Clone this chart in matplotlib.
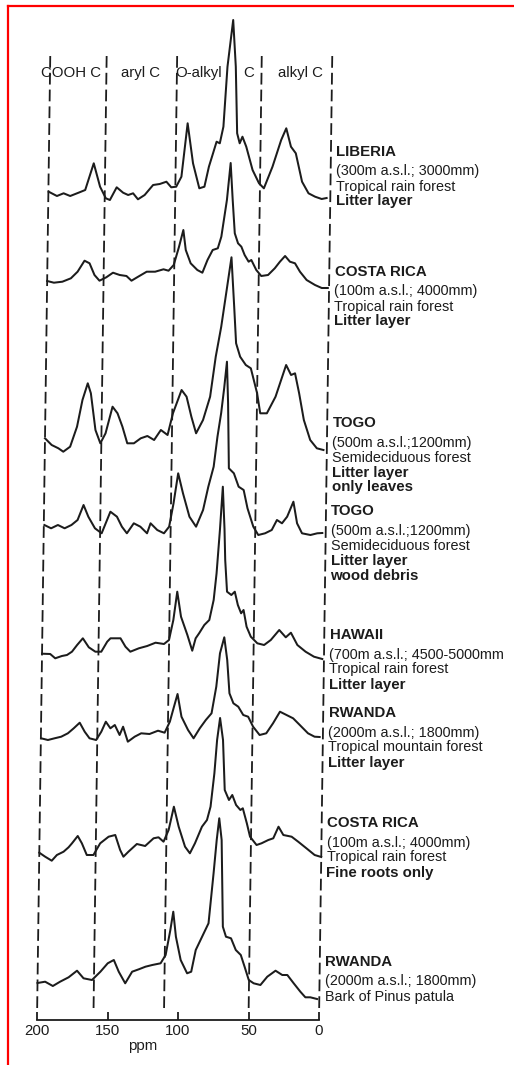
import matplotlib as mpl

mpl.use("Agg")
import matplotlib.pyplot as plt
from matplotlib.lines import Line2D
import numpy as np

plt.rcParams["font.family"] = ["Liberation Sans", "DejaVu Sans"]

INK = "#1c1c1c"
RED = "#ff0000"

# 13C CPMAS NMR traces: (chemical shift in ppm, intensity above the 0 ppm end)
liberia = np.array([
    (199.8, 6.3), (193.9, 2), (189.2, 4.7), (184.5, 2), (178.6, 5.3), (173.9, 8),
    (168.1, 34.7), (163.4, 11.3), (159.2, -0.3), (156.3, -2), (151.6, 10.7), (147.0, 5.3),
    (143.4, 3), (139.9, 4.7), (136.4, -1.3), (131.7, 3), (125.8, 13), (121.1, 14),
    (116.4, 16.3), (112.9, 10.7), (109.4, 11.3), (105.8, 21.3), (101.9, 74.7), (97.7, 34.7),
    (93.0, 9.7), (89.4, 11.3), (86.4, 31.3), (83.6, 44.7), (81.2, 56.3), (78.9, 54.7),
    (76.5, 71.3), (74.2, 131.3), (70.6, 178), (68.3, 131.3), (66.7, 64.7), (64.8, 54.7),
    (62.9, 61.3), (60.1, 51.3), (55.4, 28), (50.7, 14.7), (47.2, 9.7), (41.3, 31.3),
    (35.4, 58), (31.9, 69.7), (28.4, 51.3), (24.9, 44.7), (20.2, 16.3), (15.5, 4.7),
    (10.8, 1.3), (6.1, -1), (2.6, 0),
])
costa_litter = np.array([
    (200, 7), (195.2, 5.3), (189.2, 6.3), (183.2, 9.7), (178.5, 16.3), (173.7, 27.3),
    (170.1, 24.7), (166.5, 13), (162.9, 7.3), (158.1, 10.7), (153.4, 15.3), (148.6, 13),
    (143.8, 12), (140.2, 7.3), (135.5, 11.3), (129.5, 16.3), (123.5, 16.3), (117.6, 18.7),
    (114, 17.3), (110.4, 23), (106.8, 41.3), (103.9, 58), (102, 38), (98.4, 24.7),
    (93.6, 18), (90, 15.3), (86.5, 28), (82.9, 38), (79.3, 39.7), (76.9, 51.3),
    (73.3, 88), (71, 125), (69.2, 88), (67.4, 54.7), (65, 44.7), (62.6, 41.3),
    (60.2, 33), (57.3, 26.3), (55.4, 28), (51.8, 18), (48.2, 12), (43.4, 13),
    (38.7, 19.7), (35.1, 26.3), (31.5, 32), (28, 26.3), (24.4, 24.7), (20.8, 16.3),
    (16, 8), (10, 3), (5.2, 0), (0.9, 0),
])
togo_leaves = np.array([
    (200, 11.7), (195.2, 5), (190.4, 1.7), (186.9, -1.7), (182.1, 3.3), (177.4, 23.3),
    (173.8, 50), (170.2, 66.7), (167.9, 56.7), (164.3, 20), (160.7, 6.7), (157.1, 16.7),
    (152.4, 43.3), (148.8, 36.7), (145.2, 23.3), (141.6, 6.7), (136.9, 6.7), (132.1, 11.7),
    (127.4, 14), (122.6, 10), (117.9, 20), (113.1, 15), (109.5, 36.7), (103.6, 60),
    (100, 53.3), (96.4, 33.3), (92.9, 16.7), (88.1, 30), (83.3, 53.3), (79.7, 93.3),
    (76.1, 123.3), (72.6, 160), (69.5, 192.7), (67.1, 143.3), (65.4, 106.7), (62.4, 93.3),
    (58.3, 85), (54.7, 81.7), (50, 56.7), (47.6, 36.7), (42.9, 36.7), (36.9, 53.3),
    (29.7, 85), (26.1, 75), (23.3, 76.7), (20.2, 56.7), (16.6, 30), (11.9, 10),
    (7.1, 1.7), (2.4, 0),
])
togo_wood = np.array([
    (199.6, 8), (194.8, 4.7), (190, 8), (185.2, 4.7), (180.4, 8), (176.1, 13),
    (172, 28), (168.5, 16.3), (163.7, 4.7), (158.9, -0.3), (152.9, 21.3), (148.2, 16.3),
    (144.6, 6.3), (141, -0.3), (136.2, 9.7), (131.5, 6.3), (126.7, -0.3), (124.3, 9.7),
    (119.5, 3), (114.7, -0.3), (111.1, 6.3), (108.2, 29.7), (105.2, 59.7), (101.6, 39.7),
    (96.8, 16.3), (92, 6.3), (87.2, 23), (83.7, 46.3), (80.1, 66.3), (77.7, 96.3),
    (75.3, 120), (73.4, 145), (71.7, 171.3), (70.5, 130), (69.3, 64.7), (65.7, 59.7),
    (62.2, 46.3), (58.6, 43), (55.7, 24.7), (51.4, 6.3), (47.8, -2), (43, -0.3),
    (38.3, 3), (34.7, 13), (31.1, 9.7), (27.5, 16.3), (23.2, 31.3), (20.4, 9.7),
    (16.8, -0.3), (10.8, -2), (6, -0.3), (2.4, 0),
])
hawaii = np.array([
    (200, 5.3), (194.2, 5), (190.6, 0.7), (185.9, 3), (182.3, 4), (178.8, 7.3),
    (175.2, 14), (171.2, 20.7), (166.9, 11.7), (162.2, 7.3), (158, 7.3), (153.9, 17.3),
    (151.6, 20.7), (144.5, 20.7), (140.9, 12.3), (137.4, 7.3), (131.4, 10.7), (125.5, 13),
    (119.6, 16.3), (113.6, 15), (110.1, 19), (107.2, 39), (104.7, 67.3), (101.8, 42.3),
    (97.1, 24), (93.5, 8.3), (91.2, 20.7), (88.8, 25.7), (85.2, 34), (81.7, 39),
    (78.8, 59), (77, 85.7), (75, 130), (73.4, 172.3), (71.8, 130), (71, 99),
    (69.4, 67.3), (66.3, 64), (63.9, 67.3), (61.6, 54), (59.2, 45.7), (57.5, 49),
    (55.2, 32.3), (52.1, 22.3), (47.4, 15.7), (42.6, 14), (37.9, 19), (32, 29),
    (27.3, 21.7), (23.7, 26.3), (19, 14), (13.1, 7.3), (7.1, 2.3), (1.2, 0),
])
rwanda_litter = np.array([
    (199.8, -1.3), (195, -3), (190.3, -1.3), (185.6, 0.3), (180.9, 3.7), (176.8, 8.7),
    (172.6, 14.3), (169, 5.3), (165.5, -1.3), (160.8, -3), (157.2, 5.3), (154.1, 15.3),
    (150.8, 8.7), (147.7, 12), (144.2, 2), (141.8, 10.3), (138.3, -4.7), (133.5, 0.3),
    (128.9, 3.7), (123, 3), (117, 6.3), (112.3, 4.3), (108.7, 15.3), (105.9, 30.3),
    (103.5, 43), (100.5, 20.3), (95.7, 7), (91.7, -1.3), (87.4, 8.7), (83.2, 17),
    (79.2, 23.7), (76.1, 50.3), (73.8, 83.7), (70.9, 99.7), (68.6, 77), (66.7, 43.7),
    (63.8, 33.7), (60.3, 30.3), (56.7, 22), (53.2, 20.3), (49.6, 10.3), (44.9, 2),
    (40.2, 3.7), (35.5, 13.7), (30.7, 25.3), (26, 22), (21.3, 18.7), (16.5, 12),
    (10.6, 3.7), (5.9, 0.3), (2.3, 0),
])
costa_roots = np.array([
    (200, 4.3), (195.8, 0.3), (191.1, -3.7), (187.5, 2), (182.8, 5.3), (179.3, 9.7),
    (176.9, 13.7), (172.9, 21), (169.9, 13.7), (166.3, 2), (161.6, 2), (156.9, 13.7),
    (151, 20.3), (146.3, 22), (142.7, 7), (140.3, 0.3), (136.8, 5.3), (130.9, 13),
    (125, 11), (119.1, 18.7), (115.6, 19.7), (112, 15.3), (108.5, 27), (105, 50.3),
    (101.4, 30.3), (96.7, 10.3), (93.2, 3.7), (89.7, 13.7), (84.9, 30.3), (81.4, 37),
    (79, 50.3), (76.6, 83.7), (75, 117), (73.1, 139), (70.8, 117), (69.1, 67),
    (66, 57), (63.7, 62), (60.9, 52), (57.8, 47), (56.1, 48.7), (53.1, 33.7),
    (50.7, 20.3), (46, 12), (42.5, 13.7), (37.7, 17), (34.2, 18.7), (30.6, 30.3),
    (27.1, 22), (21.2, 20.3), (16.5, 15.3), (10.6, 8.7), (4.7, 2), (0, 0),
])
rwanda_bark = np.array([
    (200, 16), (194.6, 17.3), (189.1, 13), (184, 17.3), (178, 21.7), (172.1, 28.3),
    (167.4, 20.7), (161.4, 19), (155.5, 27.3), (150.4, 35.7), (146.1, 39), (142.5, 27.3),
    (137.8, 15.7), (133, 27.3), (128.3, 29.7), (123.6, 32.3), (118.8, 34), (112.9, 35.7),
    (109.4, 44), (106.3, 69), (104.4, 87.3), (102.3, 62.3), (98.7, 39), (94, 25.7),
    (91.1, 27.3), (88.1, 49), (82.6, 65.7), (79.3, 75.7), (76.2, 125.7), (74.3, 159),
    (72.7, 180.7), (70.8, 159), (69.1, 72.3), (66.8, 62.3), (63.2, 60.7), (59.7, 49),
    (56.1, 44), (53.3, 32.3), (50.2, 19), (46.7, 15.7), (41.9, 14), (37.1, 22.3),
    (31.3, 28.3), (26.5, 24), (22.9, 24), (18.3, 15.7), (13.5, 7.3), (9.9, 1.7),
    (6.4, 1.7), (1.6, 0),
])

SPECTRA = [liberia, costa_litter, togo_leaves, togo_wood,
           hawaii, rwanda_litter, costa_roots, rwanda_bark]

# (text, bold) lines for each trace
SITES = [
    [("LIBERIA", True), ("(300m a.s.l.; 3000mm)", False), ("Tropical rain forest", False), ("Litter layer", True)],
    [("COSTA RICA", True), ("(100m a.s.l.; 4000mm)", False), ("Tropical rain forest", False), ("Litter layer", True)],
    [("TOGO", True), ("(500m a.s.l.;1200mm)", False), ("Semideciduous forest", False), ("Litter layer", True), ("only leaves", True)],
    [("TOGO", True), ("(500m a.s.l.;1200mm)", False), ("Semideciduous forest", False), ("Litter layer", True), ("wood debris", True)],
    [("HAWAII", True), ("(700m a.s.l.; 4500-5000mm", False), ("Tropical rain forest", False), ("Litter layer", True)],
    [("RWANDA", True), ("(2000m a.s.l.; 1800mm)", False), ("Tropical mountain forest", False), ("Litter layer", True)],
    [("COSTA RICA", True), ("(100m a.s.l.; 4000mm)", False), ("Tropical rain forest", False), ("Fine roots only", True)],
    [("RWANDA", True), ("(2000m a.s.l.; 1800mm)", False), ("Bark of Pinus patula", False)],
]

REGION_EDGES = [200, 160, 110, 50, 0]
X_TICKS = [200, 150, 100, 50, 0]

# layout (vertical units = pixels above the ppm axis)
BASE_Y = [822, 732, 570, 487, 361, 283, 163, 21]
LABEL_Y = [868, 748, 597, 509, 385, 307, 197, 58]
LINE_STEP = [0, 19.5, 34.5, 49.5, 64.5]
SHEAR = 0.00975  # the scanned page leans to the right going up


def lean(ppm, y):
    return np.asarray(ppm) - SHEAR * np.asarray(y)


fig = plt.figure(figsize=(5.14, 10.65), dpi=100)
fig.patch.set_facecolor("white")
ax = fig.add_axes([37 / 514, 45 / 1065, 282 / 514, 1020 / 1065])
ax.set_xlim(200, 0)
ax.set_ylim(0, 1020)
for side in ("top", "right", "left"):
    ax.spines[side].set_visible(False)
ax.spines["bottom"].set_color(INK)
ax.spines["bottom"].set_linewidth(1.3)
ax.set_yticks([])
ax.set_xticks(X_TICKS)
ax.set_xticklabels([str(t) for t in X_TICKS], fontsize=10.8, color=INK)
ax.tick_params(axis="x", direction="in", length=6, width=1.3, color=INK, pad=3)
ax.set_xlabel("ppm", fontsize=10.8, color=INK, labelpad=0)
ax.xaxis.set_label_coords(0.376, -0.019)

# region boundaries
for edge in REGION_EDGES:
    ys = np.array([12, 968])
    ax.plot(lean([edge, edge], ys), ys, color=INK, lw=1.3,
            linestyle=(0, (6.5, 2.8)), clip_on=False)

for text, ppm in [("COOH C", 185), ("aryl C", 136), ("O-alkyl", 94.7), ("C", 58.9), ("alkyl C", 22.7)]:
    ax.text(lean(ppm, 947), 947, text, fontsize=10.8, color=INK,
            ha="center", va="center")

# stacked spectra
for spec, base in zip(SPECTRA, BASE_Y):
    y = base + spec[:, 1]
    ax.plot(lean(spec[:, 0], y), y, color=INK, lw=1.45, clip_on=False,
            solid_joinstyle="round")

# site descriptions
for lines, top in zip(SITES, LABEL_Y):
    for (text, bold), step in zip(lines, LINE_STEP):
        yy = top - step
        ax.text(lean(-3.8, yy), yy, text,
                fontsize=10.8 if bold else 10.4, color=INK,
                fontweight="bold" if bold else "normal",
                ha="left", va="center", clip_on=False)

# red frame of the scan
fig.add_artist(Line2D([7.8 / 514, 1.0], [1 - 6.3 / 1065] * 2,
                      transform=fig.transFigure, color=RED, lw=1.6))
fig.add_artist(Line2D([7.8 / 514] * 2, [0.0, 1 - 6.3 / 1065],
                      transform=fig.transFigure, color=RED, lw=1.6))

fig.savefig("out.png", dpi=100)
